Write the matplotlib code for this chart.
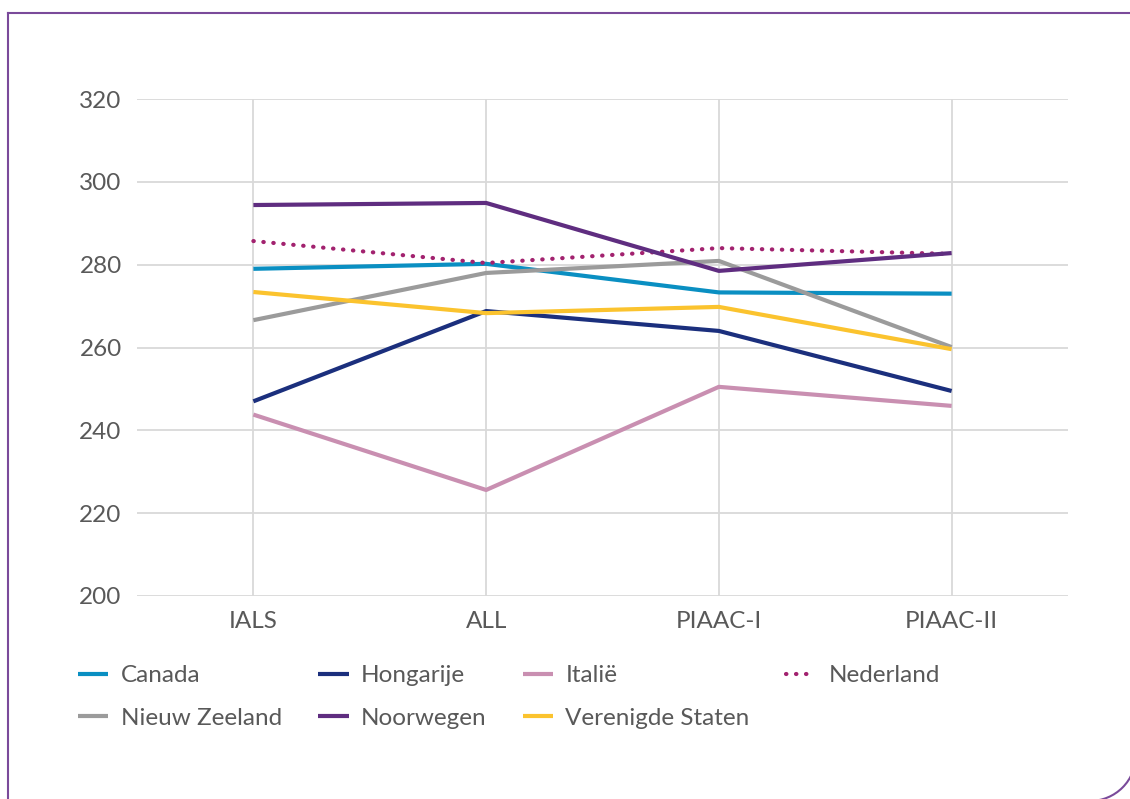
import numpy as np
import matplotlib as mpl
mpl.use('Agg')
import matplotlib.pyplot as plt
from matplotlib.patches import Arc
from matplotlib.lines import Line2D

mpl.rcParams['font.family'] = ['Lato', 'DejaVu Sans']

rounds = ["IALS", "ALL", "PIAAC-I", "PIAAC-II"]
canada = [279.0, 280.2, 273.3, 273.0]
hongarije = [247.0, 268.8, 264.0, 249.5]
italie = [243.8, 225.6, 250.5, 245.9]
nederland = [285.7, 280.4, 284.0, 282.6]
nieuw_zeeland = [266.6, 278.0, 280.9, 260.1]
noorwegen = [294.4, 294.9, 278.5, 282.8]
verenigde_staten = [273.4, 268.3, 269.8, 259.6]

series = [
    ("Canada", canada, "#0a8fc2", "-"),
    ("Hongarije", hongarije, "#1b2f7d", "-"),
    ("Italië", italie, "#c98fb1", "-"),
    ("Nederland", nederland, "#a2226f", ":"),
    ("Nieuw Zeeland", nieuw_zeeland, "#9b9b9b", "-"),
    ("Noorwegen", noorwegen, "#5f2d80", "-"),
    ("Verenigde Staten", verenigde_staten, "#fbc32e", "-"),
]

fs = 17.5
fig = plt.figure(figsize=(11.3, 7.99), dpi=100)
ax = fig.add_axes([137/1130, 1-596/799, (1068-137)/1130, (596-99)/799])

x = np.arange(len(rounds))
lines = {}
for name, vals, col, ls in series:
    ln, = ax.plot(x, vals, color=col, lw=3.0, ls=ls, label=name,
                  solid_capstyle='butt', dash_capstyle='round')
    if ls == ":":
        ln.set_dashes([0.1, 2.3])
    lines[name] = ln

ax.set_xlim(-0.5, 3.5)
ax.set_ylim(200, 320)
ax.set_yticks(np.arange(200, 321, 20))
ax.set_xticks(x)
ax.set_xticklabels(rounds)
ax.grid(True, color="#d9d9d9", lw=1.3)
ax.set_axisbelow(True)
for s in ax.spines.values():
    s.set_visible(False)
ax.tick_params(length=0, labelsize=fs, labelcolor="#595959")
ax.tick_params(axis='y', pad=11)
ax.tick_params(axis='x', pad=11)

# legend row-wise order
order = ["Canada", "Nieuw Zeeland", "Hongarije", "Noorwegen", "Italië",
         "Verenigde Staten", "Nederland"]
fig.legend([lines[n] for n in order], order, loc='upper left',
           bbox_to_anchor=(78/1130, 1-665/799), ncol=4, frameon=False,
           fontsize=fs, labelcolor="#595959", handlelength=1.25,
           handletextpad=0.5, columnspacing=1.5, labelspacing=0.9,
           borderpad=0, borderaxespad=0)

# purple frame
purple = "#7a4a9a"
fig.add_artist(Line2D([8/1130, 8/1130], [0, 1-13/799], color=purple, lw=1.5,
                      transform=fig.transFigure))
fig.add_artist(Line2D([8/1130, 1], [1-13/799, 1-13/799], color=purple, lw=1.5,
                      transform=fig.transFigure))
r = 46
fig.add_artist(Arc((1090/1130, (799-755)/799), 2*r/1130, 2*r/799,
                   theta1=270, theta2=360, color=purple, lw=1.5,
                   transform=fig.transFigure))

fig.savefig("out.png", dpi=100)
